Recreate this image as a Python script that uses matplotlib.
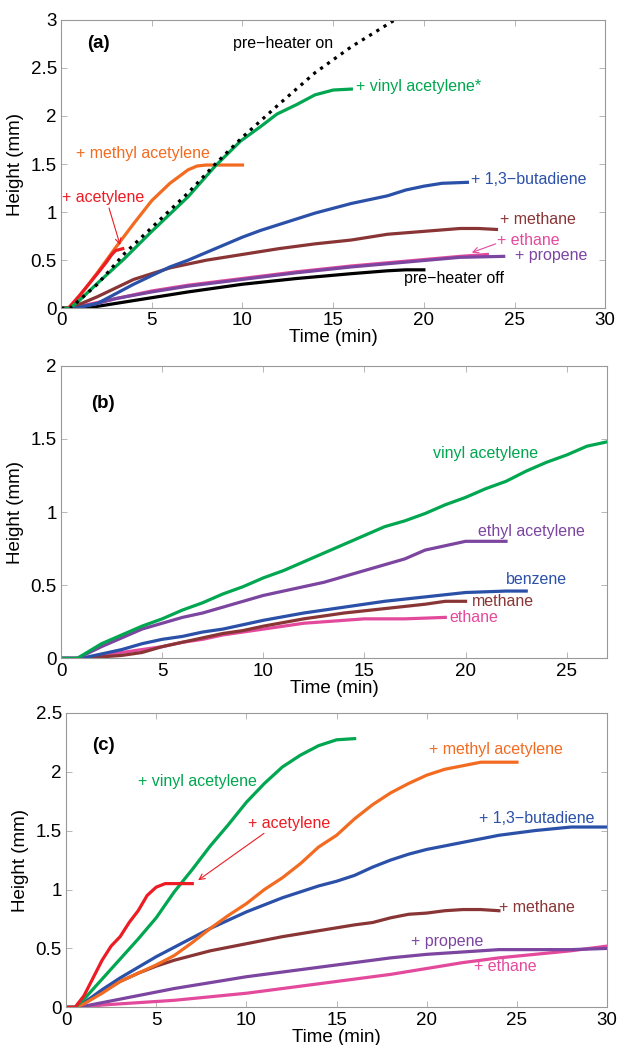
import matplotlib
matplotlib.use("Agg")
import matplotlib.pyplot as plt

plt.rcParams['font.family'] = ['Liberation Sans', 'DejaVu Sans']

GREEN = '#00a650'
ORANGE = '#f26b21'
RED = '#ed1c24'
BLUE = '#2a50a8'
BROWN = '#8a3535'
PINK = '#e44a9c'
PURPLE = '#7c45a0'
BLACK = '#000000'

# ---- panel (a) ----
a_on_t = [0, 0.5, 2, 3.5, 5, 7, 8.5, 10, 12, 14, 16, 18.4, 19]
a_on_h = [0, 0, 0.25, 0.57, 0.84, 1.2, 1.5, 1.78, 2.12, 2.45, 2.72, 3.0, 3.07]
a_vinyl_t = [0, 0.5, 1, 2, 3.4, 5, 7, 8.5, 9.9, 11, 11.9, 13, 14, 15, 16]
a_vinyl_h = [0, 0, 0.08, 0.26, 0.5, 0.8, 1.16, 1.48, 1.74, 1.89, 2.02, 2.12, 2.22, 2.27, 2.28]
a_methyl_t = [0, 0.4, 1, 2, 3, 4, 5, 6, 7, 7.5, 8, 10]
a_methyl_h = [0, 0, 0.12, 0.37, 0.63, 0.88, 1.12, 1.3, 1.44, 1.48, 1.49, 1.49]
a_acet_t = [0, 0.4, 1, 2, 2.5, 2.8, 3.0, 3.4]
a_acet_h = [0, 0, 0.13, 0.36, 0.48, 0.56, 0.6, 0.62]
a_buta_t = [0, 0.8, 2, 3, 4, 5, 6, 7, 8, 9, 10, 11, 12, 13, 14, 15, 16, 17, 18, 19, 20, 21, 22.4]
a_buta_h = [0, 0, 0.05, 0.15, 0.25, 0.34, 0.43, 0.5, 0.58, 0.66, 0.74, 0.81, 0.87, 0.93, 0.99,
            1.04, 1.09, 1.13, 1.17, 1.23, 1.27, 1.3, 1.31]
a_meth_t = [0, 0.5, 1, 2, 3, 4, 5, 6, 7, 8, 10, 12, 14, 16, 18, 20, 22, 23, 24]
a_meth_h = [0, 0, 0.04, 0.12, 0.21, 0.3, 0.36, 0.42, 0.46, 0.5, 0.56, 0.62, 0.67, 0.71, 0.77,
            0.8, 0.83, 0.83, 0.82]
a_eth_t = [0, 0.5, 1, 2, 3, 4, 5, 7, 10, 13, 16, 19, 22, 23.5]
a_eth_h = [0, 0, 0.02, 0.06, 0.1, 0.14, 0.18, 0.24, 0.31, 0.38, 0.44, 0.49, 0.54, 0.56]
a_prop_t = [0, 0.5, 2, 3, 5, 7, 10, 13, 16, 19, 22, 24.4]
a_prop_h = [0, 0, 0.05, 0.1, 0.17, 0.23, 0.3, 0.37, 0.43, 0.48, 0.53, 0.54]
a_off_t = [0, 1.5, 2, 3, 5, 7, 10, 13, 16, 18, 19, 20]
a_off_h = [0, 0, 0.02, 0.05, 0.11, 0.17, 0.25, 0.31, 0.36, 0.39, 0.4, 0.4]

# ---- panel (b) ----
b_vinyl_t = [0, 0.8, 2, 3, 4, 5, 6, 7, 8, 9, 10, 11, 12, 13, 14, 15, 16, 17, 18, 19, 20,
             21, 22, 23, 24, 25, 26, 27]
b_vinyl_h = [0, 0, 0.1, 0.16, 0.22, 0.27, 0.33, 0.38, 0.44, 0.49, 0.55, 0.6, 0.66, 0.72, 0.78,
             0.84, 0.9, 0.94, 0.99, 1.05, 1.1, 1.16, 1.21, 1.28, 1.34, 1.39, 1.45, 1.48]
b_ethyl_t = [0, 0.8, 2, 3, 4, 5, 6, 7, 8, 9, 10, 11, 12, 13, 14, 15, 16, 17, 18, 19, 20, 21, 22]
b_ethyl_h = [0, 0, 0.08, 0.14, 0.2, 0.24, 0.28, 0.31, 0.35, 0.39, 0.43, 0.46, 0.49, 0.52, 0.56,
             0.6, 0.64, 0.68, 0.74, 0.77, 0.8, 0.8, 0.8]
b_benz_t = [0, 1, 2, 3, 4, 5, 6, 7, 8, 9, 10, 12, 14, 16, 18, 20, 22, 23]
b_benz_h = [0, 0, 0.03, 0.06, 0.1, 0.13, 0.15, 0.18, 0.2, 0.23, 0.26, 0.31, 0.35, 0.39, 0.42,
            0.45, 0.46, 0.46]
b_meth_t = [0, 1, 2, 3, 4, 5, 6, 7, 8, 9, 10, 12, 14, 16, 18, 19, 20]
b_meth_h = [0, 0, 0.01, 0.02, 0.04, 0.08, 0.11, 0.14, 0.17, 0.19, 0.22, 0.27, 0.31, 0.34, 0.37,
            0.39, 0.39]
b_eth_t = [0, 1, 2, 3, 4, 5, 6, 7, 8, 9, 10, 12, 14, 15, 17, 19]
b_eth_h = [0, 0, 0.02, 0.04, 0.06, 0.08, 0.11, 0.13, 0.16, 0.18, 0.2, 0.24, 0.26, 0.27, 0.27, 0.28]

# ---- panel (c) ----
c_acet_t = [0, 0.5, 1, 1.5, 2, 2.5, 3, 3.5, 4, 4.5, 5, 5.5, 6, 7]
c_acet_h = [0, 0, 0.1, 0.25, 0.4, 0.52, 0.6, 0.72, 0.82, 0.95, 1.02, 1.05, 1.05, 1.05]
c_vinyl_t = [0, 0.5, 1, 2, 3, 4, 5, 6, 7, 8, 9, 10, 11, 12, 13, 14, 15, 16]
c_vinyl_h = [0, 0, 0.07, 0.24, 0.41, 0.58, 0.76, 0.98, 1.17, 1.37, 1.55, 1.74, 1.9, 2.04, 2.14,
             2.22, 2.27, 2.28]
c_methyl_t = [0, 0.5, 1, 2, 3, 4, 5, 6, 7, 8, 9, 10, 11, 12, 13, 14, 15, 16, 17, 18, 19, 20,
              21, 22, 23, 24, 25]
c_methyl_h = [0, 0, 0.03, 0.12, 0.22, 0.29, 0.36, 0.44, 0.55, 0.67, 0.78, 0.88, 1.0, 1.1, 1.22,
              1.36, 1.46, 1.6, 1.72, 1.82, 1.9, 1.97, 2.02, 2.05, 2.08, 2.08, 2.08]
c_buta_t = [0, 0.5, 1, 2, 3, 4, 5, 6, 7, 8, 9, 10, 11, 12, 13, 14, 15, 16, 17, 18, 19, 20, 22,
            24, 26, 28, 30]
c_buta_h = [0, 0, 0.04, 0.15, 0.25, 0.34, 0.43, 0.51, 0.59, 0.67, 0.74, 0.81, 0.87, 0.93, 0.98,
            1.03, 1.07, 1.12, 1.19, 1.25, 1.3, 1.34, 1.4, 1.46, 1.5, 1.53, 1.53]
c_meth_t = [0, 0.5, 1, 2, 3, 4, 5, 6, 7, 8, 9, 10, 12, 14, 16, 17, 18, 19, 20, 21, 22, 23, 24]
c_meth_h = [0, 0, 0.04, 0.13, 0.22, 0.29, 0.35, 0.4, 0.44, 0.48, 0.51, 0.54, 0.6, 0.65, 0.7,
            0.72, 0.76, 0.79, 0.8, 0.82, 0.83, 0.83, 0.82]
c_prop_t = [0, 0.5, 1, 2, 3, 4, 5, 6, 8, 10, 12, 14, 16, 18, 20, 22, 24, 26, 28, 30]
c_prop_h = [0, 0, 0.01, 0.04, 0.07, 0.1, 0.13, 0.16, 0.21, 0.26, 0.3, 0.34, 0.38, 0.42, 0.45,
            0.47, 0.49, 0.49, 0.49, 0.5]
c_eth_t = [0, 1, 2, 4, 6, 8, 10, 12, 14, 16, 18, 20, 22, 24, 26, 28, 30]
c_eth_h = [0, 0, 0.02, 0.04, 0.06, 0.09, 0.12, 0.16, 0.2, 0.24, 0.28, 0.33, 0.38, 0.42, 0.45,
           0.48, 0.52]

LW = 2.3
FS = 13.5
AFS = 11.5


def style_axes(ax, xmax, ymax, xticks, yticks):
    ax.set_xlim(0, xmax)
    ax.set_ylim(0, ymax)
    ax.set_xticks(xticks)
    ax.set_yticks(yticks)
    ax.set_xticklabels(['%g' % v for v in xticks])
    ax.set_yticklabels(['%g' % v for v in yticks])
    ax.tick_params(direction='in', top=True, right=True, length=4, width=0.6,
                   color='#aaaaaa', labelsize=FS)
    ax.tick_params(axis='x', pad=3)
    ax.tick_params(axis='y', pad=3)
    for sp in ax.spines.values():
        sp.set_color('#999999')
        sp.set_linewidth(0.8)
    ax.set_xlabel('Time (min)', fontsize=FS, labelpad=0)
    ax.set_ylabel('Height (mm)', fontsize=FS, labelpad=5)


fig = plt.figure(figsize=(6.17, 10.45), dpi=100)

# (a)
ax = fig.add_axes([0.099, 0.705, 0.882, 0.276])
ax.plot(a_off_t, a_off_h, color=BLACK, lw=LW)
ax.plot(a_eth_t, a_eth_h, color=PINK, lw=LW)
ax.plot(a_prop_t, a_prop_h, color=PURPLE, lw=LW)
ax.plot(a_meth_t, a_meth_h, color=BROWN, lw=LW)
ax.plot(a_buta_t, a_buta_h, color=BLUE, lw=LW)
ax.plot(a_methyl_t, a_methyl_h, color=ORANGE, lw=LW)
ax.plot(a_acet_t, a_acet_h, color=RED, lw=LW)
ax.plot(a_vinyl_t, a_vinyl_h, color=GREEN, lw=LW)
ax.plot(a_on_t, a_on_h, color=BLACK, lw=2.3, ls=':')
style_axes(ax, 30, 3, [0, 5, 10, 15, 20, 25, 30], [0, 0.5, 1, 1.5, 2, 2.5, 3])
ax.text(1.45, 2.75, '(a)', fontsize=FS, fontweight='bold', va='center')
ax.text(9.5, 2.75, 'pre\u2212heater on', color=BLACK, fontsize=AFS, va='center')
ax.text(16.25, 2.31, '+ vinyl acetylene*', color=GREEN, fontsize=AFS, va='center')
ax.text(0.83, 1.61, '+ methyl acetylene', color=ORANGE, fontsize=AFS, va='center')
ax.text(0.05, 1.15, '+ acetylene', color=RED, fontsize=AFS, va='center')
ax.text(22.6, 1.34, '+ 1,3\u2212butadiene', color=BLUE, fontsize=AFS, va='center')
ax.text(24.2, 0.92, '+ methane', color=BROWN, fontsize=AFS, va='center')
ax.text(24.05, 0.71, '+ ethane', color=PINK, fontsize=AFS, va='center')
ax.text(25.0, 0.55, '+ propene', color=PURPLE, fontsize=AFS, va='center')
ax.text(18.9, 0.31, 'pre\u2212heater off', color=BLACK, fontsize=AFS, va='center')
ax.annotate('', xy=(3.3, 0.63), xytext=(2.6, 1.07),
            arrowprops=dict(arrowstyle='->', color=RED, lw=0.8))
ax.annotate('', xy=(22.5, 0.57), xytext=(24.1, 0.68),
            arrowprops=dict(arrowstyle='->', color=PINK, lw=0.8))

# (b)
ax = fig.add_axes([0.099, 0.370, 0.885, 0.280])
ax.plot(b_eth_t, b_eth_h, color=PINK, lw=LW)
ax.plot(b_meth_t, b_meth_h, color=BROWN, lw=LW)
ax.plot(b_benz_t, b_benz_h, color=BLUE, lw=LW)
ax.plot(b_ethyl_t, b_ethyl_h, color=PURPLE, lw=LW)
ax.plot(b_vinyl_t, b_vinyl_h, color=GREEN, lw=LW)
style_axes(ax, 27, 2, [0, 5, 10, 15, 20, 25], [0, 0.5, 1, 1.5, 2])
ax.text(1.5, 1.74, '(b)', fontsize=FS, fontweight='bold', va='center')
ax.text(18.4, 1.40, 'vinyl acetylene', color=GREEN, fontsize=AFS, va='center')
ax.text(20.6, 0.87, 'ethyl acetylene', color=PURPLE, fontsize=AFS, va='center')
ax.text(22.0, 0.54, 'benzene', color=BLUE, fontsize=AFS, va='center')
ax.text(20.3, 0.39, 'methane', color=BROWN, fontsize=AFS, va='center')
ax.text(19.2, 0.28, 'ethane', color=PINK, fontsize=AFS, va='center')

# (c)
ax = fig.add_axes([0.107, 0.036, 0.877, 0.282])
ax.plot(c_eth_t, c_eth_h, color=PINK, lw=LW)
ax.plot(c_prop_t, c_prop_h, color=PURPLE, lw=LW)
ax.plot(c_meth_t, c_meth_h, color=BROWN, lw=LW)
ax.plot(c_buta_t, c_buta_h, color=BLUE, lw=LW)
ax.plot(c_methyl_t, c_methyl_h, color=ORANGE, lw=LW)
ax.plot(c_vinyl_t, c_vinyl_h, color=GREEN, lw=LW)
ax.plot(c_acet_t, c_acet_h, color=RED, lw=LW)
style_axes(ax, 30, 2.5, [0, 5, 10, 15, 20, 25, 30], [0, 0.5, 1, 1.5, 2, 2.5])
ax.text(1.42, 2.22, '(c)', fontsize=FS, fontweight='bold', va='center')
ax.text(4.0, 1.92, '+ vinyl acetylene', color=GREEN, fontsize=AFS, va='center')
ax.text(10.1, 1.56, '+ acetylene', color=RED, fontsize=AFS, va='center')
ax.text(20.1, 2.19, '+ methyl acetylene', color=ORANGE, fontsize=AFS, va='center')
ax.text(22.9, 1.60, '+ 1,3\u2212butadiene', color=BLUE, fontsize=AFS, va='center')
ax.text(24.0, 0.85, '+ methane', color=BROWN, fontsize=AFS, va='center')
ax.text(19.1, 0.56, '+ propene', color=PURPLE, fontsize=AFS, va='center')
ax.text(22.6, 0.35, '+ ethane', color=PINK, fontsize=AFS, va='center')
ax.annotate('', xy=(7.2, 1.065), xytext=(11.1, 1.49),
            arrowprops=dict(arrowstyle='->', color=RED, lw=0.8))

fig.savefig('out.png', dpi=100)
